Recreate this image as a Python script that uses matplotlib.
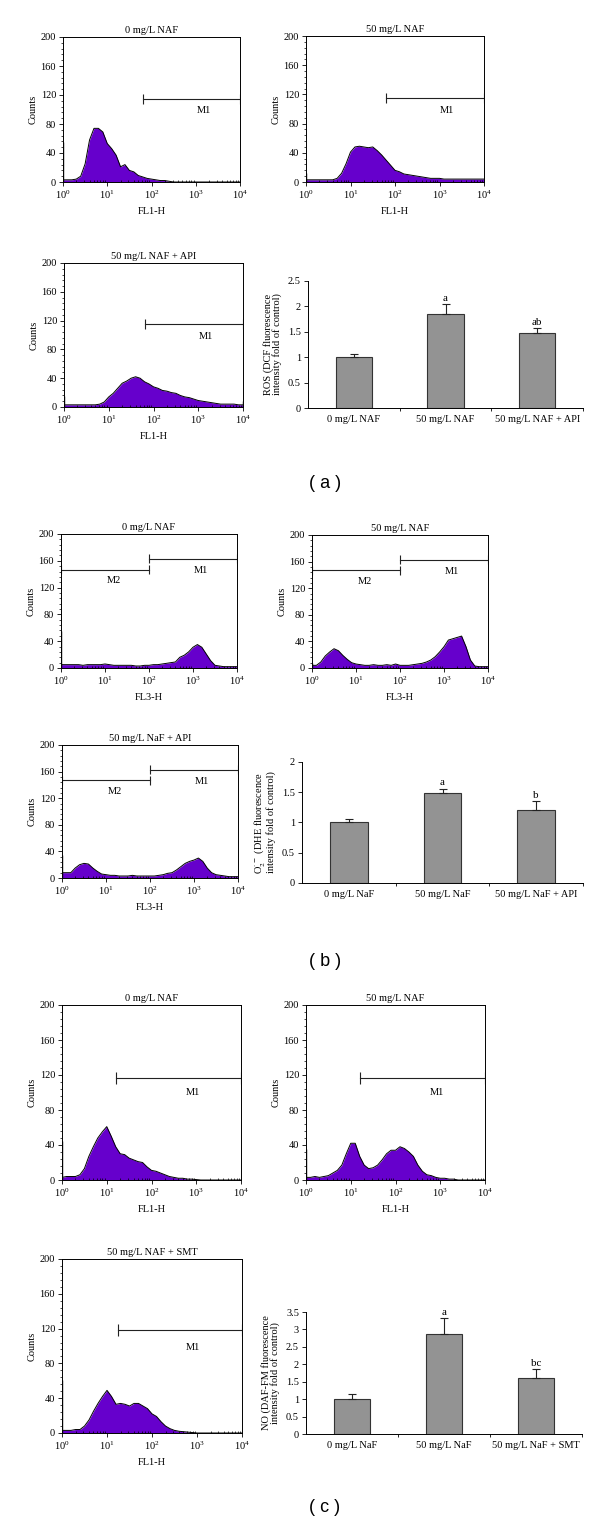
import numpy as np
import matplotlib.pyplot as plt
from matplotlib.ticker import MultipleLocator, LogLocator, NullFormatter, FuncFormatter

plt.rcParams['font.family'] = ['Liberation Serif', 'DejaVu Serif']
plt.rcParams['mathtext.fontset'] = 'stix'
plt.rcParams['font.size'] = 7.5
plt.rcParams['axes.linewidth'] = 0.7

W, H = 600, 1525
FS = 7.5

# channel positions: every 0.1 decade from 10^0 to 10^4
expo = np.arange(41) / 10
chan = 10 ** expo

# histogram counts (one value per 0.1 decade)
ros_0 = [3, 3, 3, 4, 8, 25, 58, 74, 74, 69, 53, 46, 37, 21, 24, 16, 14, 9, 7, 5,
         4, 3, 2, 2, 1, 0, 0, 0, 0, 0, 0, 0, 0, 0, 0, 0, 0, 0, 0, 0, 0]
ros_50 = [3, 3, 3, 3, 3, 3, 3, 5, 12, 25, 41, 48, 49, 48, 47, 48, 43, 37, 30, 23,
          16, 14, 11, 10, 9, 8, 7, 6, 5, 5, 5, 4, 4, 4, 4, 4, 4, 4, 4, 4, 4]
ros_api = [3, 3, 3, 3, 3, 3, 3, 3, 4, 7, 14, 19, 26, 33, 36, 40, 42, 40, 35, 32,
           28, 26, 23, 22, 20, 19, 16, 14, 13, 11, 9, 8, 7, 6, 5, 4, 4, 4, 4, 3, 3]
sup_0 = [5, 5, 5, 5, 5, 4, 5, 5, 5, 5, 6, 5, 4, 4, 4, 4, 4, 3, 3, 4,
         4, 5, 5, 6, 7, 8, 9, 16, 19, 24, 31, 35, 31, 21, 11, 4, 3, 2, 2, 2, 2]
sup_50 = [4, 4, 9, 18, 24, 29, 26, 19, 13, 8, 6, 5, 4, 4, 5, 4, 4, 5, 4, 6,
          4, 4, 4, 5, 6, 7, 9, 12, 17, 24, 32, 42, 44, 46, 48, 32, 12, 3, 2, 2, 2]
sup_api = [8, 8, 8, 15, 20, 22, 21, 15, 10, 6, 5, 4, 4, 3, 3, 3, 4, 3, 3, 3,
           3, 3, 4, 5, 7, 8, 12, 17, 22, 25, 27, 30, 25, 15, 8, 5, 4, 3, 2, 2, 2]
no_0 = [3, 4, 4, 4, 6, 13, 27, 38, 48, 55, 61, 50, 38, 30, 29, 25, 23, 21, 20, 15,
        11, 10, 8, 6, 4, 3, 2, 2, 1, 1, 0.5, 0, 0, 0, 0, 0, 0, 0, 0, 0, 0]
no_50 = [3, 3, 4, 3, 4, 5, 8, 11, 17, 30, 42, 42, 27, 17, 13, 14, 17, 23, 30, 34,
         34, 38, 36, 32, 27, 17, 10, 6, 5, 3, 2, 2, 1, 1, 0, 0, 0, 0, 0, 0, 0]
no_smt = [3, 3, 3, 4, 4, 8, 15, 25, 34, 42, 49, 42, 33, 34, 33, 31, 34, 34, 31, 28,
          22, 19, 13, 8, 5, 3, 2, 1.5, 1, 0.5, 0, 0, 0, 0, 0, 0, 0, 0, 0, 0, 0]

# first-channel spikes
spike = {'ros_0': 55, 'ros_50': 12, 'ros_api': 15, 'sup_0': 55, 'sup_50': 8,
         'sup_api': 34, 'no_0': 45, 'no_50': 36, 'no_smt': 61}

# marker gates: (name, start, end, level, label x, label y)
gate_ros = [('M1', 63, 1e4, 115, 1500, 98)]
gate_sup = [('M2', 1, 100, 147, 16, 130), ('M1', 100, 1e4, 163, 1500, 145)]
gate_no = [('M1', 16, 1e4, 117, 830, 100)]
gate_smt = [('M1', 18, 1e4, 118, 830, 98)]

# bar charts
ros_labels = ['0 mg/L NAF', '50 mg/L NAF', '50 mg/L NAF + API']
ros_mean = [1.0, 1.85, 1.48]
ros_err = [0.07, 0.20, 0.09]
ros_sig = ['', 'a', 'ab']

sup_labels = ['0 mg/L NaF', '50 mg/L NaF', '50 mg/L NaF + API']
sup_mean = [1.0, 1.49, 1.20]
sup_err = [0.06, 0.07, 0.16]
sup_sig = ['', 'a', 'b']

no_labels = ['0 mg/L NaF', '50 mg/L NaF', '50 mg/L NaF + SMT']
no_mean = [1.0, 2.88, 1.62]
no_err = [0.14, 0.44, 0.25]
no_sig = ['', 'a', 'bc']

fig = plt.figure(figsize=(6, 15.25), dpi=100)


def px_axes(x0, y0, x1, y1):
    return fig.add_axes([x0 / W, 1 - y1 / H, (x1 - x0) / W, (y1 - y0) / H])


def hist_panel(box, counts, sp, title, xlabel, gates):
    ax = px_axes(*box)
    ax.fill_between(chan, counts, 0, color='#6600cc', lw=0)
    ax.plot(chan, counts, color='black', lw=0.7)
    ax.vlines(chan[0], 0, sp, color='black', lw=1.0)
    for name, g0, g1, lvl, tx, ty in gates:
        ax.plot([g0, g1], [lvl, lvl], color='#222222', lw=0.8)
        ax.vlines([g0, g1], lvl - 7, lvl + 7, color='#222222', lw=0.8)
        ax.text(tx, ty, name, ha='center', va='center', fontsize=FS)
    ax.set_xscale('log')
    ax.set_xlim(1, 1e4)
    ax.set_ylim(0, 200)
    ax.set_yticks(np.arange(0, 201, 40))
    ax.yaxis.set_minor_locator(MultipleLocator(8))
    ax.xaxis.set_minor_locator(LogLocator(subs=np.arange(2, 10)))
    ax.xaxis.set_minor_formatter(NullFormatter())
    ax.tick_params(which='major', length=3, width=0.6, labelsize=FS, pad=2)
    ax.tick_params(which='minor', length=1.5, width=0.5)
    ax.tick_params(axis='x', which='minor', direction='in')
    ax.set_title(title, fontsize=FS, pad=3)
    ax.set_ylabel('Counts', fontsize=FS, labelpad=2)
    ax.set_xlabel(xlabel, fontsize=FS, labelpad=4)
    return ax


def bar_panel(box, labels, mean, err, sig, top, step, ylabel):
    ax = px_axes(*box)
    pos = np.arange(len(labels))
    ax.bar(pos, mean, width=0.4, color='#939393', edgecolor='#333333', lw=0.8)
    ax.errorbar(pos, mean, yerr=[np.zeros(len(err)), err], fmt='none',
                ecolor='#222222', elinewidth=0.8, capsize=3, capthick=0.8)
    for p, m, e, s in zip(pos, mean, err, sig):
        ax.text(p, m + e + top * 0.01, s, ha='center', va='bottom', fontsize=8)
    ax.set_xlim(-0.5, 2.5)
    ax.set_ylim(0, top)
    ax.set_yticks(np.arange(0, top + 0.01, step))
    ax.yaxis.set_major_formatter(FuncFormatter(lambda v, p: '%g' % v))
    ax.set_xticks(pos)
    ax.set_xticklabels(labels)
    ax.set_xticks([0.5, 1.5, 2.5], minor=True)
    ax.tick_params(axis='x', which='major', length=0, labelsize=FS, pad=5)
    ax.tick_params(axis='x', which='minor', length=2.5, width=0.6)
    ax.tick_params(axis='y', length=3, width=0.6, labelsize=FS, pad=2)
    ax.spines['top'].set_visible(False)
    ax.spines['right'].set_visible(False)
    ax.set_ylabel(ylabel, fontsize=FS, linespacing=1.0, labelpad=4)
    return ax


def panel_letter(y, s):
    fig.text(325 / W, 1 - y / H, s, ha='center', va='center', fontsize=13,
             family=['Liberation Sans', 'DejaVu Sans'])


# (a) ROS
hist_panel((63, 37, 240, 182), ros_0, spike['ros_0'], '0 mg/L NAF', 'FL1-H', gate_ros)
hist_panel((306, 36, 484, 182), ros_50, spike['ros_50'], '50 mg/L NAF', 'FL1-H', gate_ros)
ha = hist_panel((64, 263, 243, 407), ros_api, spike['ros_api'], '50 mg/L NAF + API',
                'FL1-H', gate_ros)
ha.vlines(chan[-1], 0, 8, color='black', lw=1.0)
bar_panel((308, 281, 583, 408), ros_labels, ros_mean, ros_err, ros_sig, 2.5, 0.5,
          'ROS (DCF fluorescence\nintensity fold of control)')
panel_letter(483, '( a )')

# (b) superoxide
hist_panel((61, 534, 237, 668), sup_0, spike['sup_0'], '0 mg/L NAF', 'FL3-H', gate_sup)
hist_panel((312, 535, 488, 668), sup_50, spike['sup_50'], '50 mg/L NAF', 'FL3-H', gate_sup)
hist_panel((62, 745, 238, 878), sup_api, spike['sup_api'], '50 mg/L NaF + API', 'FL3-H',
           gate_sup)
bar_panel((302, 762, 583, 883), sup_labels, sup_mean, sup_err, sup_sig, 2.0, 0.5,
          r'O$_2^{\cdot\,-}$ (DHE fluorescence' + '\nintensity fold of control)')
panel_letter(962, '( b )')

# (c) nitric oxide
hist_panel((62, 1005, 241, 1180), no_0, spike['no_0'], '0 mg/L NAF', 'FL1-H', gate_no)
hist_panel((306, 1005, 485, 1180), no_50, spike['no_50'], '50 mg/L NAF', 'FL1-H', gate_no)
hist_panel((62, 1259, 242, 1433), no_smt, spike['no_smt'], '50 mg/L NAF + SMT', 'FL1-H',
           gate_smt)
bar_panel((306, 1312, 582, 1434), no_labels, no_mean, no_err, no_sig, 3.5, 0.5,
          'NO (DAF-FM fluorescence\nintensity fold of control)')
panel_letter(1508, '( c )')

fig.savefig('out.png', dpi=100, facecolor='white')
